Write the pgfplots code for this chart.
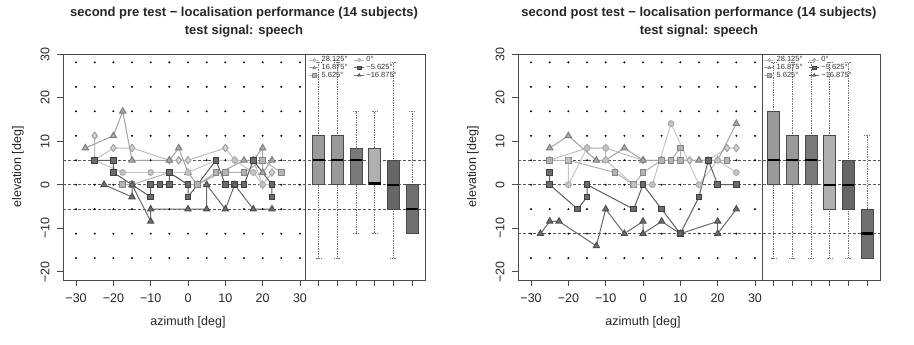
\documentclass[border=0pt]{standalone}
\usepackage{fontspec}
\setmainfont{Liberation Sans}
\usepackage{pgfplots}
\usepackage{pgfplotstable}
\pgfplotsset{compat=1.18}
\usepgfplotslibrary{statistics}

\definecolor{dLine}{HTML}{BDBDBD}\definecolor{dFill}{HTML}{D8D8D8}\definecolor{dDraw}{HTML}{9E9E9E}
\definecolor{tLine}{HTML}{A2A2A2}\definecolor{tFill}{HTML}{ABABAB}\definecolor{tDraw}{HTML}{7E7E7E}
\definecolor{qLine}{HTML}{B0B0B0}\definecolor{qFill}{HTML}{B4B4B4}\definecolor{qDraw}{HTML}{858585}
\definecolor{cLine}{HTML}{C6C6C6}\definecolor{cFill}{HTML}{C4C4C4}\definecolor{cDraw}{HTML}{ADADAD}
\definecolor{sLine}{HTML}{5E5E5E}\definecolor{sFill}{HTML}{6C6C6C}\definecolor{sDraw}{HTML}{3E3E3E}
\definecolor{uLine}{HTML}{6A6A6A}\definecolor{uFill}{HTML}{707070}\definecolor{uDraw}{HTML}{4E4E4E}
\definecolor{bxA}{HTML}{9A9A9A}\definecolor{bxB}{HTML}{999999}\definecolor{bxC}{HTML}{7A7A7A}
\definecolor{bxD}{HTML}{B0B0B0}\definecolor{bxE}{HTML}{666666}\definecolor{bxF}{HTML}{707070}
\definecolor{frame}{HTML}{4A4A4A}

\pgfplotstableread{
x a b c d e f g h i
-30 28.125 22.5 16.875 11.25 5.625 0 -5.625 -11.25 -16.875
-25 28.125 22.5 16.875 11.25 5.625 0 -5.625 -11.25 -16.875
-20 28.125 22.5 16.875 11.25 5.625 0 -5.625 -11.25 -16.875
-15 28.125 22.5 16.875 11.25 5.625 0 -5.625 -11.25 -16.875
-10 28.125 22.5 16.875 11.25 5.625 0 -5.625 -11.25 -16.875
-5 28.125 22.5 16.875 11.25 5.625 0 -5.625 -11.25 -16.875
0 28.125 22.5 16.875 11.25 5.625 0 -5.625 -11.25 -16.875
5 28.125 22.5 16.875 11.25 5.625 0 -5.625 -11.25 -16.875
10 28.125 22.5 16.875 11.25 5.625 0 -5.625 -11.25 -16.875
15 28.125 22.5 16.875 11.25 5.625 0 -5.625 -11.25 -16.875
20 28.125 22.5 16.875 11.25 5.625 0 -5.625 -11.25 -16.875
25 28.125 22.5 16.875 11.25 5.625 0 -5.625 -11.25 -16.875
30 28.125 22.5 16.875 11.25 5.625 0 -5.625 -11.25 -16.875
}\griddots

\newcommand\drawgrid{%
\foreach \c in {a,b,c,d,e,f,g,h,i}{%
\addplot[forget plot, only marks, mark=*, mark size=0.75pt, black] table[x=x,y=\c]{\griddots};}}

\pgfplotsset{
 panel/.style={
  scale only axis, width=362pt, height=226pt,
  xmin=-33.5, xmax=63.5, ymin=-21.9, ymax=30.05,
  axis line style={frame, line width=0.8pt},
  xtick={-30,-20,-10,0,10,20,30},
  xticklabels={−30,−20,−10,0,10,20,30},
  extra x ticks={35,40,45,50,55,60}, extra x tick labels={},
  ytick={-20,-10,0,10,20,30},
  yticklabels={−20,−10,0,10,20,30},
  xtick pos=bottom, ytick pos=left,
  tick align=outside, major tick length=6pt,
  tick style={frame, line width=0.7pt},
  ticklabel style={font=\fontsize{12.5}{13}\selectfont, text=black!85},
  yticklabel style={rotate=90, anchor=south},
  xticklabel shift=4pt, yticklabel shift=4pt,
  clip=false,
  boxplot/draw direction=y,
  boxplot/box extend=3.2, boxplot/whisker extend=1.6,
  boxplot/every whisker/.style={densely dotted, black!55, line width=0.7pt},
  boxplot/every median/.style={black, line width=2.4pt},
  legend style={draw=none, fill=none, anchor=north west,
    at={(axis cs:32.4,29.6)},
    font=\fontsize{7.5}{7.5}\selectfont, inner sep=0pt,
    nodes={inner sep=0.45pt, text=black!80},
    /tikz/every odd column/.append style={column sep=1.5pt},
    /tikz/every even column/.append style={column sep=6pt}},
  legend columns=3, transpose legend,
  legend cell align=left,
  legend image code/.code={\draw[mark repeat=2,mark phase=2,#1] plot coordinates {(0pt,0pt)(5pt,0pt)(10pt,0pt)};},
  legend image post style={mark size=1.8pt, line width=0.5pt},
 },
 hline/.style={forget plot, densely dashed, black!65, line width=0.6pt},
 sepline/.style={forget plot, frame, line width=0.8pt},
 sDia/.style={dLine, line width=1pt, mark=diamond*, mark size=3.6pt, mark options={solid, fill=dFill, draw=dDraw}},
 sTri/.style={tLine, line width=1pt, mark=triangle*, mark size=3.6pt, mark options={solid, fill=tFill, draw=tDraw}},
 sSqL/.style={qLine, line width=1pt, mark=square*, mark size=2.8pt, mark options={solid, fill=qFill, draw=qDraw}},
 sCir/.style={cLine, line width=1pt, mark=*, mark size=2.9pt, mark options={solid, fill=cFill, draw=cDraw}},
 sSqD/.style={sLine, line width=1pt, mark=square*, mark size=2.8pt, mark options={solid, fill=sFill, draw=sDraw}},
 sTriD/.style={uLine, line width=1pt, mark=triangle*, mark size=3.6pt, mark options={solid, fill=uFill, draw=uDraw}},
}

\begin{document}
\begin{tikzpicture}
\useasboundingbox (0,0) rectangle (914pt,345pt);

% ---------------- left panel ----------------
\begin{axis}[panel, at={(63pt,65pt)}, anchor=south west]
\drawgrid
\addplot[hline] coordinates {(-33.5,5.625) (63.5,5.625)};
\addplot[hline] coordinates {(-33.5,0) (63.5,0)};
\addplot[hline] coordinates {(-33.5,-5.625) (63.5,-5.625)};
\addplot[sepline] coordinates {(31.5,-21.9) (31.5,30.05)};
\addplot[forget plot, boxplot prepared={draw position=35, lower whisker=-16.875, lower quartile=0, median=5.625, upper quartile=11.25, upper whisker=28.125}, boxplot/every box/.style={fill=bxA, draw=frame, line width=0.6pt}] coordinates {};
\addplot[forget plot, boxplot prepared={draw position=40, lower whisker=-16.875, lower quartile=0, median=5.625, upper quartile=11.25, upper whisker=28.125}, boxplot/every box/.style={fill=bxB, draw=frame, line width=0.6pt}] coordinates {};
\addplot[forget plot, boxplot prepared={draw position=45, lower whisker=-11.25, lower quartile=0, median=5.625, upper quartile=8.4375, upper whisker=16.875}, boxplot/every box/.style={fill=bxC, draw=frame, line width=0.6pt}] coordinates {};
\addplot[forget plot, boxplot prepared={draw position=50, lower whisker=-11.25, lower quartile=0, median=0.3, upper quartile=8.4375, upper whisker=16.875}, boxplot/every box/.style={fill=bxD, draw=frame, line width=0.6pt}] coordinates {};
\addplot[forget plot, boxplot prepared={draw position=55, lower whisker=-16.875, lower quartile=-5.625, median=0, upper quartile=5.625, upper whisker=28.125}, boxplot/every box/.style={fill=bxE, draw=frame, line width=0.6pt}] coordinates {};
\addplot[forget plot, boxplot prepared={draw position=60, lower whisker=-11.25, lower quartile=-11.25, median=-5.625, upper quartile=0, upper whisker=16.875}, boxplot/every box/.style={fill=bxF, draw=frame, line width=0.6pt}] coordinates {};
% series
\addplot[sDia] coordinates {(-25,11.25) (-25,5.625) (-20,8.4375) (-15,8.4375) (-5,5.625) (-2.5,5.625) (0,5.625) (10,8.4375) (12.5,5.625) (17.5,5.625) (20,0) (22.5,2.8125)};
\addplot[sTri] coordinates {(-27.5,8.4375) (-20,11.25) (-17.5,16.875) (-15,5.625) (-5,5.625) (-2.5,8.4375) (0,2.8125) (2.5,0) (15,5.625) (17.5,5.625) (20,8.4375) (20,2.8125) (22.5,5.625)};
\addplot[sSqL] coordinates {(-17.5,0) (-15,0) (-5,2.8125) (0,0) (2.5,0) (7.5,2.8125) (10,2.8125) (15,2.8125) (20,5.625) (25,2.8125)};
\addplot[sCir] coordinates {(-25,5.625) (-17.5,2.8125) (-10,2.8125) (-5,2.8125) (0,2.8125) (7.5,5.625) (12.5,5.625) (17.5,2.8125) (20,0) (22.5,0)};
\addplot[sSqD] coordinates {(-25,5.625) (-20,5.625) (-20,2.8125) (-10,-2.8125) (-10,0) (-7.5,0) (-5,0) (-5,2.8125) (0,0) (0,-2.8125) (7.5,5.625) (10,0) (12.5,0) (15,0) (17.5,5.625) (22.5,0) (22.5,-2.8125)};
\addplot[sTriD] coordinates {(-22.5,0) (-15,-2.8125) (-15,0) (-10,-8.4375) (-10,-5.625) (0,-5.625) (5,-5.625) (5,0) (10,-5.625) (12.5,0) (17.5,-5.625) (22.5,-5.625)};
\legend{28.125°, 16.875°, 5.625°, 0°, −5.625°, −16.875°}
\end{axis}

% ---------------- right panel ----------------
\begin{axis}[panel, at={(518pt,65pt)}, anchor=south west]
\drawgrid
\addplot[hline] coordinates {(-33.5,5.625) (63.5,5.625)};
\addplot[hline] coordinates {(-33.5,0) (63.5,0)};
\addplot[hline] coordinates {(-33.5,-11.25) (63.5,-11.25)};
\addplot[sepline] coordinates {(32,-21.9) (32,30.05)};
\addplot[forget plot, boxplot prepared={draw position=35, lower whisker=-16.875, lower quartile=0, median=5.625, upper quartile=16.875, upper whisker=28.125}, boxplot/every box/.style={fill=bxA, draw=frame, line width=0.6pt}] coordinates {};
\addplot[forget plot, boxplot prepared={draw position=40, lower whisker=-16.875, lower quartile=0, median=5.625, upper quartile=11.25, upper whisker=28.125}, boxplot/every box/.style={fill=bxB, draw=frame, line width=0.6pt}] coordinates {};
\addplot[forget plot, boxplot prepared={draw position=45, lower whisker=-16.875, lower quartile=0, median=5.625, upper quartile=11.25, upper whisker=28.125}, boxplot/every box/.style={fill=bxC, draw=frame, line width=0.6pt}] coordinates {};
\addplot[forget plot, boxplot prepared={draw position=50, lower whisker=-16.875, lower quartile=-5.625, median=0, upper quartile=11.25, upper whisker=28.125}, boxplot/every box/.style={fill=bxD, draw=frame, line width=0.6pt}] coordinates {};
\addplot[forget plot, boxplot prepared={draw position=55, lower whisker=-16.875, lower quartile=-5.625, median=0, upper quartile=5.625, upper whisker=28.125}, boxplot/every box/.style={fill=bxE, draw=frame, line width=0.6pt}] coordinates {};
\addplot[forget plot, boxplot prepared={draw position=60, lower whisker=-16.875, lower quartile=-16.875, median=-11.25, upper quartile=-5.625, upper whisker=11.25}, boxplot/every box/.style={fill=bxF, draw=frame, line width=0.6pt}] coordinates {};
% series
\addplot[sDia] coordinates {(-25,5.625) (-15,8.4375) (-10,8.4375) (0,5.625) (12.5,5.625) (17.5,5.625) (22.5,8.4375) (25,8.4375)};
\addplot[sTri] coordinates {(-25,8.4375) (-20,11.25) (-12.5,5.625) (-10,5.625) (-5,8.4375) (0,5.625) (5,5.625) (15,5.625) (20,5.625) (25,14.0625)};
\addplot[sSqL] coordinates {(-25,5.625) (-20,5.625) (-7.5,2.8125) (-2.5,0) (0,2.8125) (5,5.625) (7.5,5.625) (10,8.4375) (10,5.625) (17.5,5.625) (22.5,5.625)};
\addplot[sCir] coordinates {(-20,5.625) (-20,0) (-15,8.4375) (-10,8.4375) (-10,5.625) (-2.5,0) (2.5,0) (7.5,14.0625) (15,0) (20,5.625) (25,2.8125)};
\addplot[sSqD] coordinates {(-25,2.8125) (-25,0) (-17.5,-5.625) (-15,-2.8125) (-15,0) (-2.5,-5.625) (0,0) (5,-5.625) (10,-11.25) (15,-2.8125) (17.5,5.625) (20,0) (25,0)};
\addplot[sTriD] coordinates {(-27.5,-11.25) (-25,-8.4375) (-22.5,-8.4375) (-12.5,-14.0625) (-10,-5.625) (-5,-11.25) (0,-8.4375) (0,-11.25) (5,-8.4375) (10,-11.25) (20,-8.4375) (20,-11.25) (25,-5.625)};
\legend{28.125°, 16.875°, 5.625°, 0°, −5.625°, −16.875°}
\end{axis}

% ---------------- titles and axis labels ----------------
\begin{scope}[every node/.style={font=\bfseries\fontsize{13}{15}\selectfont, text=black!85}]
\node at (244pt,332pt) {second pre test − localisation performance (14 subjects)};
\node at (244pt,313.5pt) {test signal: speech};
\node at (699pt,332pt) {second post test − localisation performance (14 subjects)};
\node at (699pt,313.5pt) {test signal: speech};
\end{scope}
\begin{scope}[every node/.style={font=\fontsize{12.5}{14}\selectfont, text=black!85}]
\node at (188pt,23pt) {azimuth [deg]};
\node at (643pt,23pt) {azimuth [deg]};
\node[rotate=90] at (18pt,178pt) {elevation [deg]};
\node[rotate=90] at (473pt,178pt) {elevation [deg]};
\end{scope}
\end{tikzpicture}
\end{document}
